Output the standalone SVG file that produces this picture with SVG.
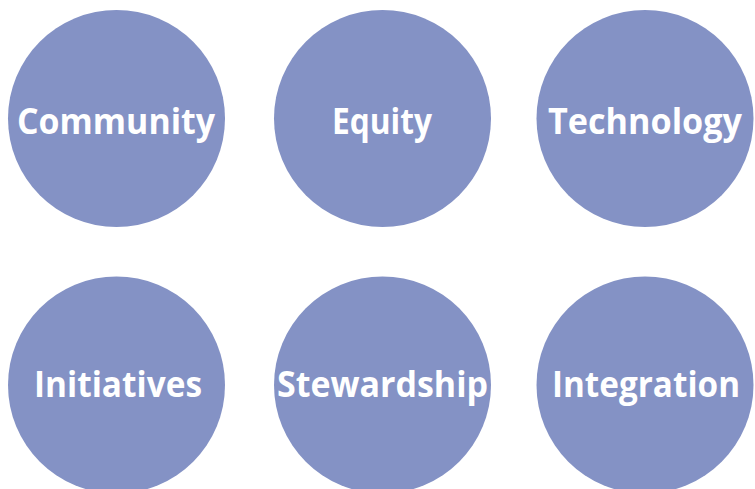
<svg xmlns="http://www.w3.org/2000/svg" width="755" height="489" viewBox="0 0 755 489">
<style>
.c{fill:#8492c5}
.t{fill:#fff;font-family:"Open Sans","Noto Sans",sans-serif;font-weight:bold;font-size:36px;text-anchor:middle}
</style>
<rect width="755" height="489" fill="#fff"/>
<g id="community"><circle class="c" cx="116.5" cy="118.5" r="108.5"/><text class="t" x="116" y="134" textLength="198" lengthAdjust="spacingAndGlyphs">Community</text></g>
<g id="equity"><circle class="c" cx="382.5" cy="118.5" r="108.5"/><text class="t" x="382" y="134" textLength="100" lengthAdjust="spacingAndGlyphs">Equity</text></g>
<g id="technology"><circle class="c" cx="645" cy="118.5" r="108.5"/><text class="t" x="645" y="134" textLength="194" lengthAdjust="spacingAndGlyphs">Technology</text></g>
<g id="initiatives"><circle class="c" cx="116.5" cy="385" r="108.5"/><text class="t" x="118" y="397" textLength="168" lengthAdjust="spacingAndGlyphs">Initiatives</text></g>
<g id="stewardship"><circle class="c" cx="382.5" cy="385" r="108.5"/><text class="t" x="382.5" y="397" textLength="211" lengthAdjust="spacingAndGlyphs">Stewardship</text></g>
<g id="integration"><circle class="c" cx="645" cy="385" r="108.5"/><text class="t" x="646" y="397" textLength="188" lengthAdjust="spacingAndGlyphs">Integration</text></g>
<g id="connectors"/>
</svg>
